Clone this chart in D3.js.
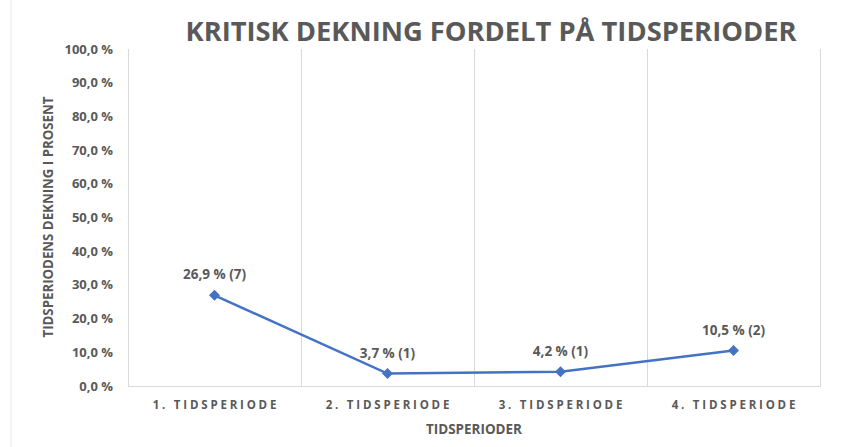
<!DOCTYPE html>
<html>
<head>
<meta charset="utf-8">
<script src="https://cdn.jsdelivr.net/npm/d3@7"></script>
<style>
  body { margin: 0; background: #fff; }
  text { font-family: "Open Sans", sans-serif; font-weight: 700; fill: #595959; }
</style>
</head>
<body>
<div id="chart"></div>
<script>
var width = 853, height = 447;
var margin = {top: 49, right: 33, bottom: 61, left: 128};

const categories = ['1. TIDSPERIODE', '2. TIDSPERIODE', '3. TIDSPERIODE', '4. TIDSPERIODE'];
const values = [26.9, 3.7, 4.2, 10.5];
const counts = [7, 1, 1, 2];
const yTicks = [0, 10, 20, 30, 40, 50, 60, 70, 80, 90, 100];

var svg = d3.select('#chart')
  .append('svg')
  .attr('width', width)
  .attr('height', height);

// faint sheet line at far left
svg.append('line')
  .attr('x1', 11).attr('x2', 11)
  .attr('y1', 0).attr('y2', height)
  .attr('stroke', '#e8e8e8').attr('stroke-width', 1);

var x = d3.scaleBand()
  .domain(categories)
  .range([margin.left, width - margin.right]);

var y = d3.scaleLinear()
  .domain([0, 100])
  .range([height - margin.bottom, margin.top]);

var fmt = function(v) { return d3.format('.1f')(v).replace('.', ',') + ' %'; };

// vertical gridlines at category borders
var edges = categories.map(function(c){ return x(c); }).concat([x.range()[1]]);
svg.selectAll('.vgrid')
  .data(edges)
  .enter()
  .append('line')
  .attr('class', 'vgrid')
  .attr('x1', function(d){ return d + 0.5; })
  .attr('x2', function(d){ return d + 0.5; })
  .attr('y1', y(100))
  .attr('y2', y(0))
  .attr('stroke', '#d9d9d9');

// bottom axis line
svg.append('line')
  .attr('x1', x.range()[0]).attr('x2', x.range()[1] + 1)
  .attr('y1', y(0) + 0.5).attr('y2', y(0) + 0.5)
  .attr('stroke', '#d9d9d9');

// y tick labels
svg.selectAll('.ytick')
  .data(yTicks)
  .enter()
  .append('text')
  .attr('class', 'ytick')
  .attr('x', 113)
  .attr('y', function(d){ return y(d); })
  .attr('dy', '0.35em')
  .attr('text-anchor', 'end')
  .style('font-size', '13px')
  .text(fmt);

// x tick labels
svg.selectAll('.xtick')
  .data(categories)
  .enter()
  .append('text')
  .attr('class', 'xtick')
  .attr('x', function(d){ return x(d) + x.bandwidth() / 2 + 1.4; })
  .attr('y', 409)
  .attr('text-anchor', 'middle')
  .style('font-size', '11.5px')
  .style('letter-spacing', '2.8px')
  .text(function(d){ return d; });

// title
svg.append('text')
  .attr('x', 491)
  .attr('y', 41)
  .attr('text-anchor', 'middle')
  .style('font-size', '27px')
  .attr('textLength', 611)
  .attr('lengthAdjust', 'spacingAndGlyphs')
  .text('KRITISK DEKNING FORDELT PÅ TIDSPERIODER');

// axis titles
svg.append('text')
  .attr('x', 474)
  .attr('y', 434)
  .attr('text-anchor', 'middle')
  .style('font-size', '15px')
  .attr('textLength', 96)
  .attr('lengthAdjust', 'spacingAndGlyphs')
  .text('TIDSPERIODER');

svg.append('text')
  .attr('transform', 'translate(53,217) rotate(-90)')
  .attr('text-anchor', 'middle')
  .style('font-size', '15px')
  .attr('textLength', 241)
  .attr('lengthAdjust', 'spacingAndGlyphs')
  .text('TIDSPERIODENS DEKNING I PROSENT');

// line
var pts = categories.map(function(c, i){ return {c: c, v: values[i], n: counts[i]}; });
var cx = function(d){ return x(d.c) + x.bandwidth() / 2; };
var line = d3.line()
  .x(cx)
  .y(function(d){ return y(d.v); });

svg.append('path')
  .datum(pts)
  .attr('d', line)
  .attr('fill', 'none')
  .attr('stroke', '#4472c4')
  .attr('stroke-width', 2.5);

svg.selectAll('.marker')
  .data(pts)
  .enter()
  .append('path')
  .attr('class', 'marker')
  .attr('d', 'M0,-5.5L5.5,0L0,5.5L-5.5,0Z')
  .attr('transform', function(d){ return 'translate(' + cx(d) + ',' + y(d.v) + ')'; })
  .attr('fill', '#4472c4');

svg.selectAll('.dlabel')
  .data(pts)
  .enter()
  .append('text')
  .attr('class', 'dlabel')
  .attr('x', cx)
  .attr('y', function(d){ return y(d.v) - 16; })
  .attr('text-anchor', 'middle')
  .style('font-size', '13.5px')
  .text(function(d){ return fmt(d.v) + ' (' + d.n + ')'; });
</script>
</body>
</html>
